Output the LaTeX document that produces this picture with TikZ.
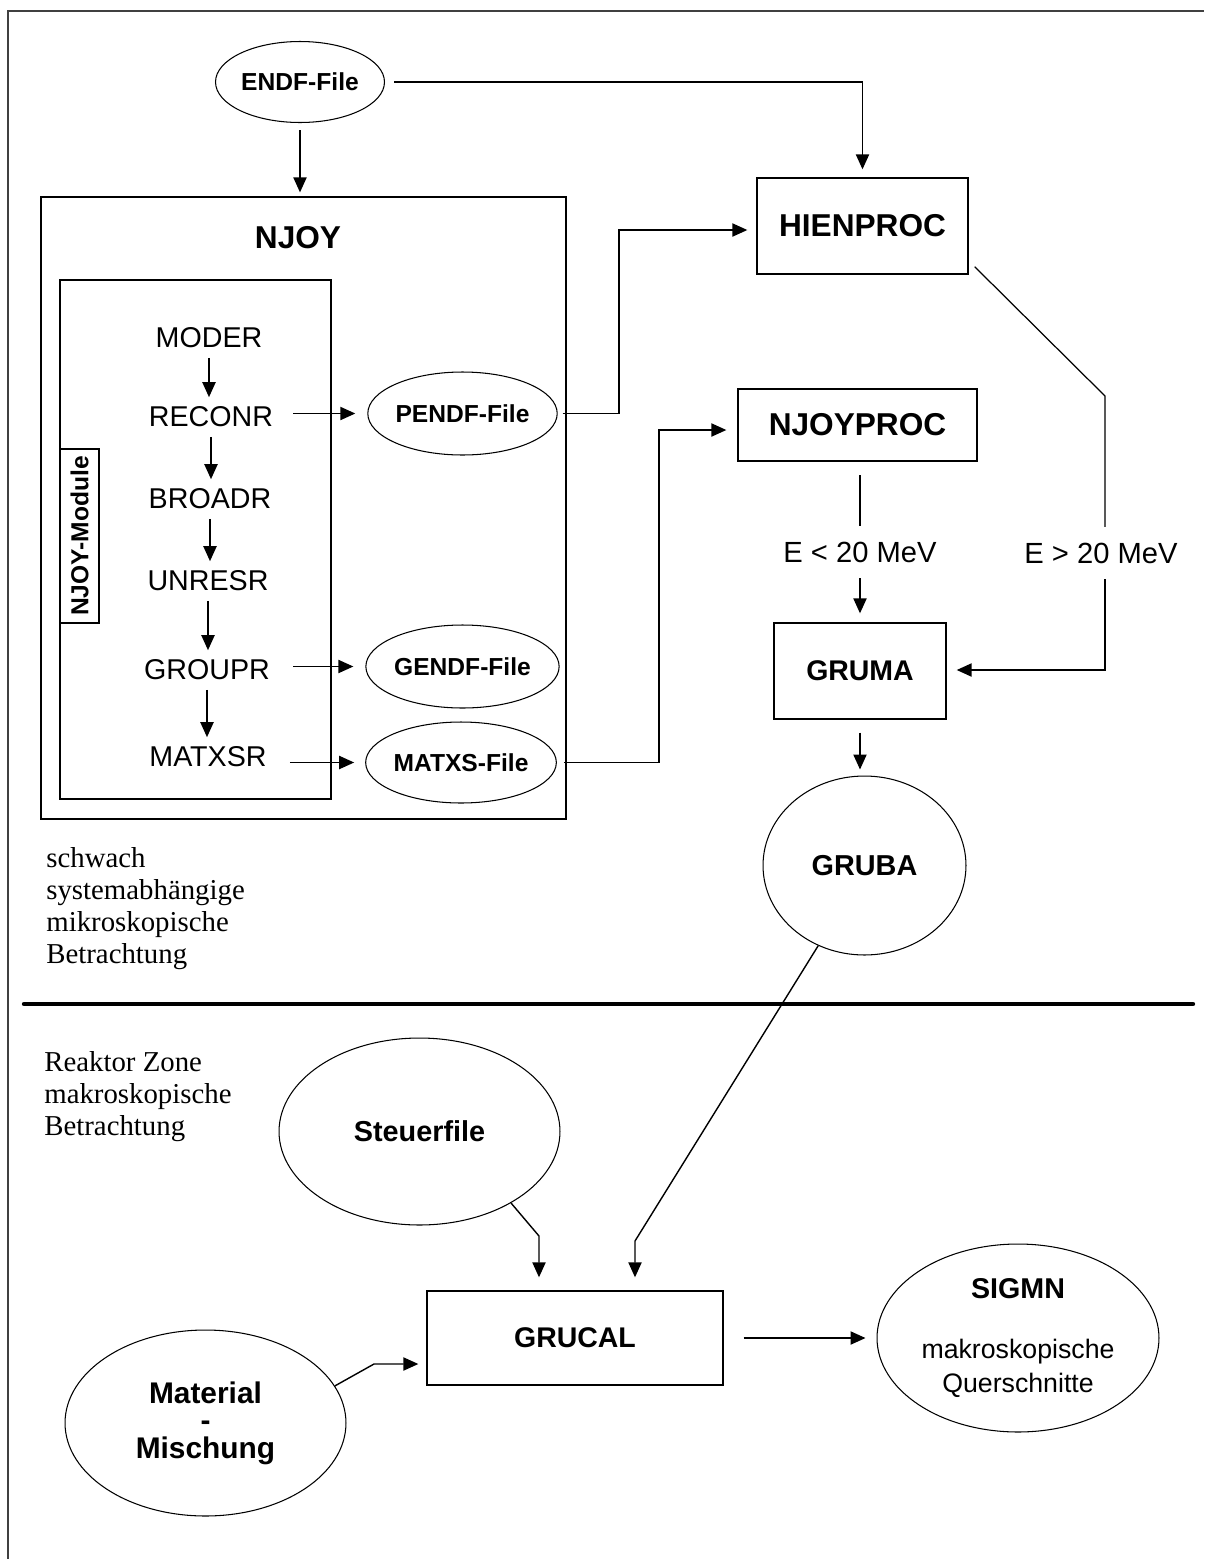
\documentclass[tikz,border=0pt]{standalone}
\usepackage{fontspec}
\setmainfont{Liberation Sans}
\newfontfamily\serifschrift{Liberation Serif}
\usetikzlibrary{positioning,arrows.meta,shapes.geometric}
\tikzset{
    base/.style={align=center, inner sep=0pt},
    prozess/.style={base, rectangle, draw, line width=0.8pt,
                    font=\bfseries\fontsize{18}{21}\selectfont},
    prozessklein/.style={prozess, font=\bfseries\fontsize{16.2}{19}\selectfont},
    rahmen/.style={base, rectangle, draw, line width=0.8pt},
    datei/.style={base, ellipse, draw, line width=0.6pt,
                  font=\bfseries\fontsize{14}{17}\selectfont},
    kreis/.style={base, ellipse, draw, line width=0.6pt,
                  font=\bfseries\fontsize{16.4}{19}\selectfont},
    modul/.style={base, font=\fontsize{16.3}{19}\selectfont, minimum height=0.78cm},
    bedingung/.style={base, inner ysep=0.31cm, font=\fontsize{16.6}{19}\selectfont},
    notiz/.style={base, align=left, anchor=north west,
                  font=\serifschrift\fontsize{16.4}{18.3}\selectfont},
    pfeil/.style={-{Triangle[length=8.5pt,width=7.5pt]}, line width=0.8pt},
    linie/.style={line width=0.7pt}
}
\begin{document}
\begin{tikzpicture}[x=0.02cm, y=-0.02cm]
  \useasboundingbox (0,0) rectangle (1204,1559);
  % outer frame (open to the right and below)
  \draw[line width=1.1pt, black!75] (8,1559) -- (8,11) -- (1204,11);

  % upper half: NJOY and processing
  \node[datei, minimum width=3.38cm, minimum height=1.62cm] (endf) at (300,82) {ENDF-File};
  \node[rahmen, minimum width=10.5cm, minimum height=12.44cm] (njoy) at (303.5,508) {};
  \node[base, font=\bfseries\fontsize{18}{21}\selectfont] (njoytitel) at (298,238) {NJOY};
  \node[rahmen, minimum width=5.42cm, minimum height=10.38cm] (module) at (195.5,539.5) {};
  \node[rahmen, rotate=90, minimum width=3.48cm, minimum height=0.78cm,
        font=\bfseries\fontsize{14}{16}\selectfont] (modlabel) at (79.5,536) {NJOY-Module};

  \node[modul] (moder) at (209,338) {MODER};
  \node[modul] (reconr) at (211,417) {RECONR};
  \node[modul] (broadr) at (210,499) {BROADR};
  \node[modul] (unresr) at (208,581) {UNRESR};
  \node[modul] (groupr) at (207,670) {GROUPR};
  \node[modul] (matxsr) at (208,757) {MATXSR};

  \node[datei, minimum width=3.42cm, minimum height=1.66cm] (pendf) at (462.5,413.5) {PENDF-File};
  \node[datei, minimum width=3.42cm, minimum height=1.66cm] (gendf) at (462.5,666.5) {GENDF-File};
  \node[datei, minimum width=3.44cm, minimum height=1.62cm] (matxs) at (461,762.5) {MATXS-File};

  \node[prozess, minimum width=4.22cm, minimum height=1.92cm] (hien) at (862.5,226) {HIENPROC};
  \node[prozess, minimum width=4.78cm, minimum height=1.44cm] (njproc) at (857.5,425) {NJOYPROC};
  \node[bedingung] (eklein) at (860,552) {E < 20 MeV};
  \node[bedingung] (egross) at (1101,553) {E > 20 MeV};
  \node[prozessklein, minimum width=3.44cm, minimum height=1.92cm] (gruma) at (860,671) {GRUMA};
  \node[kreis, minimum width=4.06cm, minimum height=3.58cm] (gruba) at (864.5,865.5) {GRUBA};

  \node[notiz] (mikro) at (46,847) {schwach\\systemabhängige\\mikroskopische\\Betrachtung};

  % separator
  \draw[line width=2.5pt, line cap=round] (24,1004) -- (1193,1004);

  % lower half: reactor zone
  \node[notiz] (makro) at (44,1051) {Reaktor Zone\\makroskopische\\Betrachtung};
  \node[kreis, minimum width=5.62cm, minimum height=3.74cm] (steuer) at (419.5,1131.5) {Steuerfile};
  \node[prozessklein, minimum width=5.92cm, minimum height=1.88cm] (grucal) at (575,1338) {GRUCAL};
  \node[kreis, minimum width=5.62cm, minimum height=3.72cm,
        font=\bfseries\fontsize{17}{15.6}\selectfont] (material) at (205.5,1423) {Material\\-\\Mischung};
  \node[base, ellipse, draw, line width=0.6pt, minimum width=5.64cm, minimum height=3.76cm,
        font=\fontsize{15.2}{19.3}\selectfont] (sigmn) at (1018,1338)
        {\bfseries\fontsize{16.3}{19.3}\selectfont SIGMN\\[15pt]makroskopische\\Querschnitte};

  % connectors
  \draw[pfeil, shorten <=0.14cm, shorten >=0.08cm] (endf.south) -- (endf.south |- njoy.north);
  \draw[pfeil, shorten >=0.16cm] ([xshift=0.18cm]endf.east) -| (hien.north);

  \draw[pfeil] (moder.south) -- (moder.south |- reconr.north);
  \draw[pfeil] (reconr.south) -- (reconr.south |- broadr.north);
  \draw[pfeil] (broadr.south) -- (broadr.south |- unresr.north);
  \draw[pfeil] (unresr.south) -- (unresr.south |- groupr.north);
  \draw[pfeil] (groupr.south) -- (groupr.south |- matxsr.north);

  \draw[pfeil, shorten >=0.24cm] ([xshift=0.4cm]reconr.east |- pendf.west) -- (pendf.west);
  \draw[pfeil, shorten >=0.24cm] ([xshift=0.46cm]groupr.east |- gendf.west) -- (gendf.west);
  \draw[pfeil, shorten >=0.22cm] ([xshift=0.46cm]matxsr.east |- matxs.west) -- (matxs.west);

  \coordinate (knickA) at (619,230);
  \draw[pfeil, shorten >=0.18cm] ([xshift=0.1cm]pendf.east) -| (knickA) -- (knickA -| hien.west);
  \coordinate (knickB) at (659,430);
  \draw[pfeil, shorten >=0.22cm] ([xshift=0.14cm]matxs.east) -| (knickB) -- (knickB -| njproc.west);

  \draw[linie, shorten >=0.26cm] (eklein.north) -- (eklein.north |- njproc.south);
  \draw[pfeil, shorten >=0.18cm] (eklein.south) -- (eklein.south |- gruma.north);

  \coordinate (hA) at (1105,396);
  \coordinate (hB) at (1105,670);
  \draw[linie] ([xshift=0.12cm,yshift=0.16cm]hien.south east) -- (hA) -- (hA |- egross.north);
  \draw[pfeil, shorten >=0.2cm] (hA |- egross.south) -- (hB) -- (hB -| gruma.east);

  \draw[pfeil, shorten <=0.26cm, shorten >=0.12cm] (gruma.south) -- (gruma.south |- gruba.north);

  \coordinate (sK) at (539,1236);
  \draw[pfeil, shorten >=0.26cm] (steuer.-38) -- (sK) -- (sK |- grucal.north);
  \coordinate (gK) at (635,1241);
  \draw[pfeil, shorten >=0.26cm] (gruba.-120) -- (gK) -- (gK |- grucal.north);
  \coordinate (mK) at (374,1364);
  \draw[pfeil, shorten >=0.16cm] (material.16) -- (mK) -- (mK -| grucal.west);
  \draw[pfeil, shorten <=0.4cm, shorten >=0.22cm] (grucal.east) -- (sigmn.west);
\end{tikzpicture}
\end{document}
